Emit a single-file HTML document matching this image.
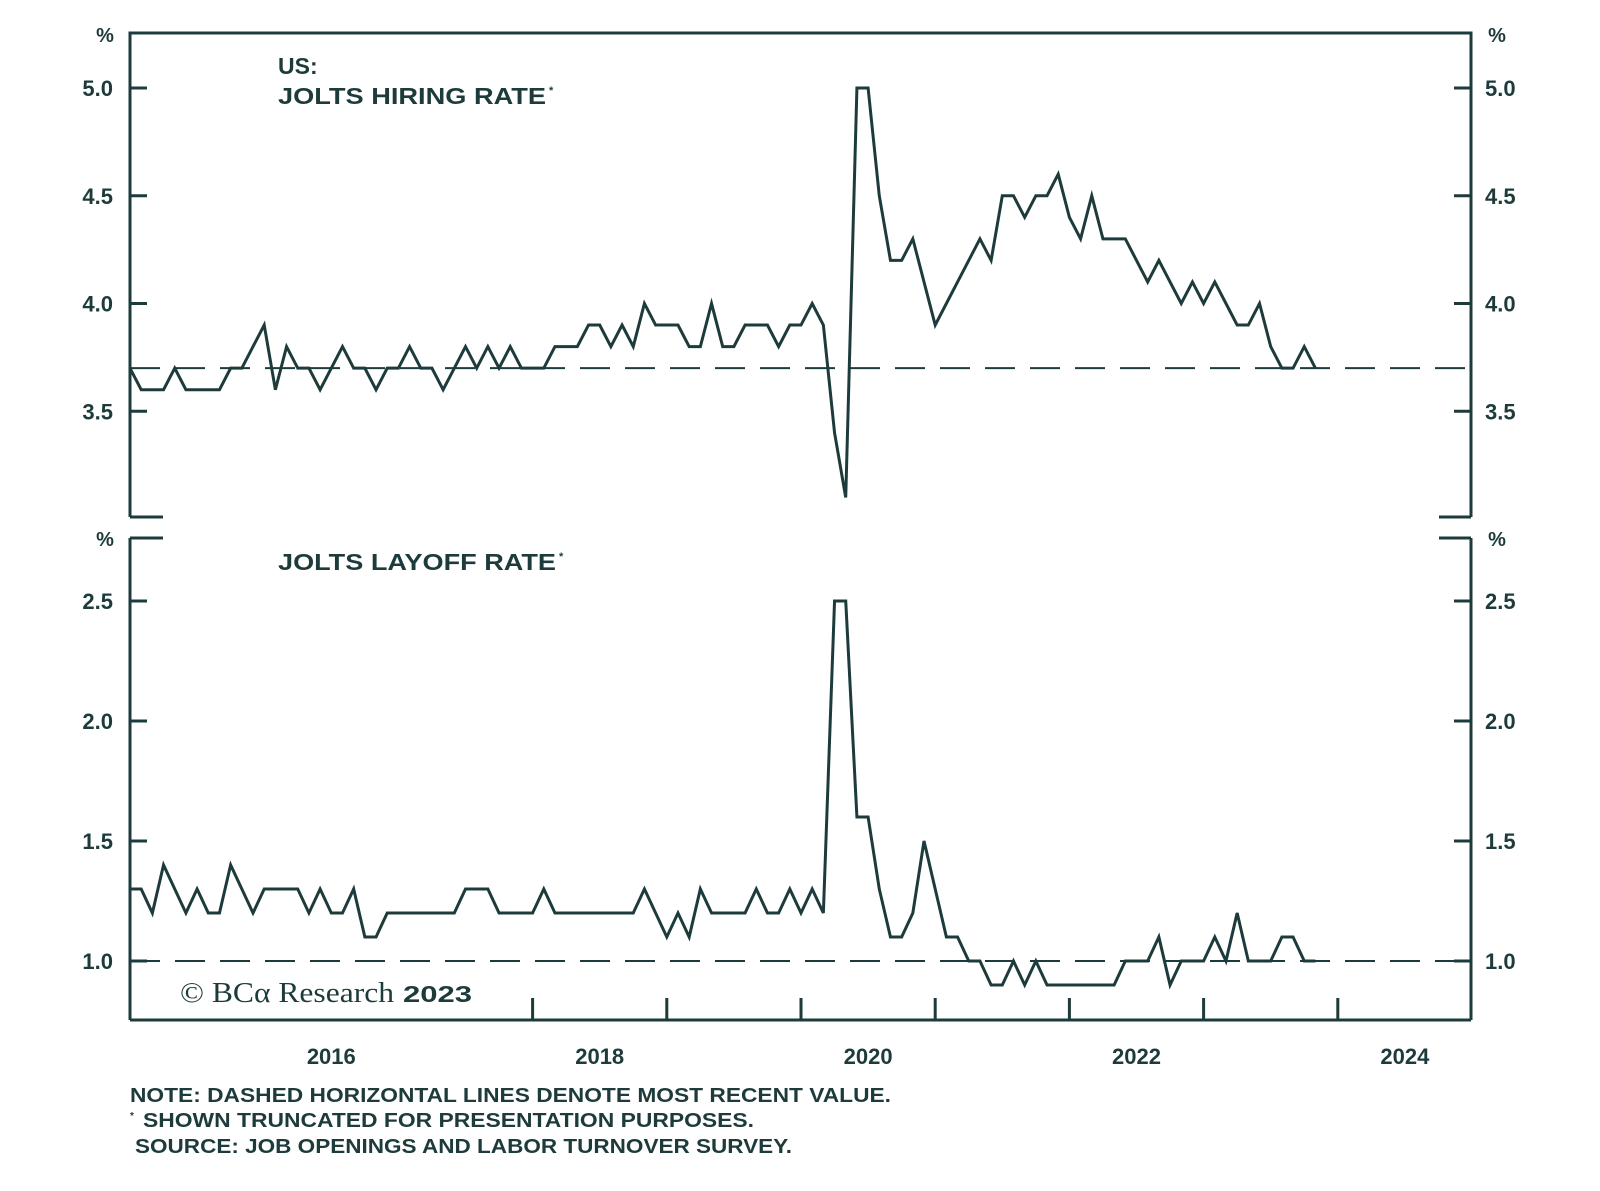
<!DOCTYPE html>
<html><head><meta charset="utf-8"><style>
body{margin:0;background:#fff;}
svg{display:block;font-family:"Liberation Sans",sans-serif;}
</style></head><body>
<svg id="chart" width="1600" height="1191" viewBox="0 0 1600 1191" xmlns="http://www.w3.org/2000/svg">
<g id="frame" stroke="#1e3b3b" stroke-width="3" fill="none">
<path d="M130,517 L130,33 L1471,33 L1471,517"/>
<line x1="130" y1="517" x2="163" y2="517"/><line x1="1439" y1="517" x2="1471" y2="517"/>
<path d="M130,1020 L130,538 M130,538 L163,538 M1471,538 L1471,1020 M1439,538 L1471,538"/>
<line x1="130" y1="1020" x2="1471" y2="1020"/>
</g>
<g fill="#1e3b3b" font-weight="bold">
<text x="278" y="74" font-size="23">US:</text>
<text x="278" y="104" font-size="23" textLength="268" lengthAdjust="spacingAndGlyphs">JOLTS HIRING RATE</text>
<text x="549" y="94" font-size="11">*</text>
<text x="278" y="570" font-size="23" textLength="278" lengthAdjust="spacingAndGlyphs">JOLTS LAYOFF RATE</text>
<text x="559" y="560" font-size="11">*</text>
<text x="105" y="42" font-size="20" text-anchor="middle">%</text>
<text x="1497" y="42" font-size="20" text-anchor="middle">%</text>
<text x="105" y="546" font-size="20" text-anchor="middle">%</text>
<text x="1497" y="546" font-size="20" text-anchor="middle">%</text>
<text x="180" y="1002" font-size="28" font-weight="normal" font-family="Liberation Serif,serif" textLength="214" lengthAdjust="spacingAndGlyphs">© BCα Research</text>
<text x="403" y="1002" font-size="23" textLength="69" lengthAdjust="spacingAndGlyphs">2023</text>
<text x="130" y="1102" font-size="20" textLength="761" lengthAdjust="spacingAndGlyphs">NOTE: DASHED HORIZONTAL LINES DENOTE MOST RECENT VALUE.</text>
<text x="130" y="1119" font-size="10">*</text>
<text x="143" y="1127" font-size="20" textLength="611" lengthAdjust="spacingAndGlyphs">SHOWN TRUNCATED FOR PRESENTATION PURPOSES.</text>
<text x="135" y="1153" font-size="20" textLength="657" lengthAdjust="spacingAndGlyphs">SOURCE: JOB OPENINGS AND LABOR TURNOVER SURVEY.</text>
</g>
<g id="dyn"></g>
</svg>
<script>
const hiring=[3.7,3.6,3.6,3.6,3.7,3.6,3.6,3.6,3.6,3.7,
3.7,3.8,3.9,3.6,3.8,3.7,3.7,3.6,3.7,3.8,
3.7,3.7,3.6,3.7,3.7,3.8,3.7,3.7,3.6,3.7,
3.8,3.7,3.8,3.7,3.8,3.7,3.7,3.7,3.8,3.8,
3.8,3.9,3.9,3.8,3.9,3.8,4.0,3.9,3.9,3.9,
3.8,3.8,4.0,3.8,3.8,3.9,3.9,3.9,3.8,3.9,
3.9,4.0,3.9,3.4,3.1,5.0,5.0,4.5,4.2,4.2,
4.3,4.1,3.9,4.0,4.1,4.2,4.3,4.2,4.5,4.5,
4.4,4.5,4.5,4.6,4.4,4.3,4.5,4.3,4.3,4.3,
4.2,4.1,4.2,4.1,4.0,4.1,4.0,4.1,4.0,3.9,
3.9,4.0,3.8,3.7,3.7,3.8,3.7];
const layoff=[1.3,1.3,1.2,1.4,1.3,1.2,1.3,1.2,1.2,1.4,
1.3,1.2,1.3,1.3,1.3,1.3,1.2,1.3,1.2,1.2,
1.3,1.1,1.1,1.2,1.2,1.2,1.2,1.2,1.2,1.2,
1.3,1.3,1.3,1.2,1.2,1.2,1.2,1.3,1.2,1.2,
1.2,1.2,1.2,1.2,1.2,1.2,1.3,1.2,1.1,1.2,
1.1,1.3,1.2,1.2,1.2,1.2,1.3,1.2,1.2,1.3,
1.2,1.3,1.2,2.5,2.5,1.6,1.6,1.3,1.1,1.1,
1.2,1.5,1.3,1.1,1.1,1.0,1.0,0.9,0.9,1.0,
0.9,1.0,0.9,0.9,0.9,0.9,0.9,0.9,0.9,1.0,
1.0,1.0,1.1,0.9,1.0,1.0,1.0,1.1,1.0,1.2,
1.0,1.0,1.0,1.1,1.1,1.0,1.0];
const hiringTicks=[3.5,4.0,4.5,5.0];
const layoffTicks=[1.0,1.5,2.0,2.5];
const yearLabels=[2016,2018,2020,2022,2024];
const yearTicks=[2018,2019,2020,2021,2022,2023,2024];
const startYear=2015;
const C="#1e3b3b",NS="http://www.w3.org/2000/svg";
const xT=t=>130+(t-2015)*134.2;
const xI=i=>xT(startYear+i/12);
const yH=v=>88+(5.0-v)*215.5;
const yL=v=>601+(2.5-v)*240;
const g=document.getElementById('dyn');
function mk(tag,a){const e=document.createElementNS(NS,tag);for(const k in a)e.setAttribute(k,a[k]);g.appendChild(e);return e;}
function fmt(v){return v.toFixed(1);}
hiringTicks.forEach(v=>{
 const t1=mk('line',{x1:130,x2:147,y1:yH(v),y2:yH(v),stroke:C,'stroke-width':3});
 
 
 const t2=mk('line',{x1:1454,x2:1471,y1:yH(v),y2:yH(v),stroke:C,'stroke-width':3});
 
 
 const a=mk('text',{x:113,y:yH(v)+8,'text-anchor':'end','font-size':22,'font-weight':'bold',fill:C});a.textContent=fmt(v);
 
 
 const b=mk('text',{x:1485,y:yH(v)+8,'font-size':22,'font-weight':'bold',fill:C});b.textContent=fmt(v);
 
 
});
layoffTicks.forEach(v=>{
 const t1=mk('line',{x1:130,x2:147,y1:yL(v),y2:yL(v),stroke:C,'stroke-width':3});
 
 
 const t2=mk('line',{x1:1454,x2:1471,y1:yL(v),y2:yL(v),stroke:C,'stroke-width':3});
 
 
 const a=mk('text',{x:113,y:yL(v)+8,'text-anchor':'end','font-size':22,'font-weight':'bold',fill:C});a.textContent=fmt(v);
 
 
 const b=mk('text',{x:1485,y:yL(v)+8,'font-size':22,'font-weight':'bold',fill:C});b.textContent=fmt(v);
 
 
});
yearTicks.forEach(y=>{
 const t=mk('line',{x1:xT(y),x2:xT(y),y1:1020,y2:998,stroke:C,'stroke-width':3});
 
 
});
yearLabels.forEach(y=>{
 const t=mk('text',{x:xT(y+0.5),y:1064,'text-anchor':'middle','font-size':22,'font-weight':'bold',fill:C});t.textContent=y;
 
 
});
const hl=hiring[hiring.length-1],ll=layoff[layoff.length-1];
const d1=mk('line',{x1:130,x2:1471,y1:yH(hl),y2:yH(hl),stroke:C,'stroke-width':2,'stroke-dasharray':'30 15'});


const d2=mk('line',{x1:130,x2:1471,y1:yL(ll),y2:yL(ll),stroke:C,'stroke-width':2,'stroke-dasharray':'30 15'});


const p1=mk('polyline',{points:hiring.map((v,i)=>xI(i)+','+yH(v)).join(' '),fill:'none',stroke:C,'stroke-width':3,'stroke-linejoin':'miter'});


const p2=mk('polyline',{points:layoff.map((v,i)=>xI(i)+','+yL(v)).join(' '),fill:'none',stroke:C,'stroke-width':3,'stroke-linejoin':'miter'});


</script>
</body></html>
